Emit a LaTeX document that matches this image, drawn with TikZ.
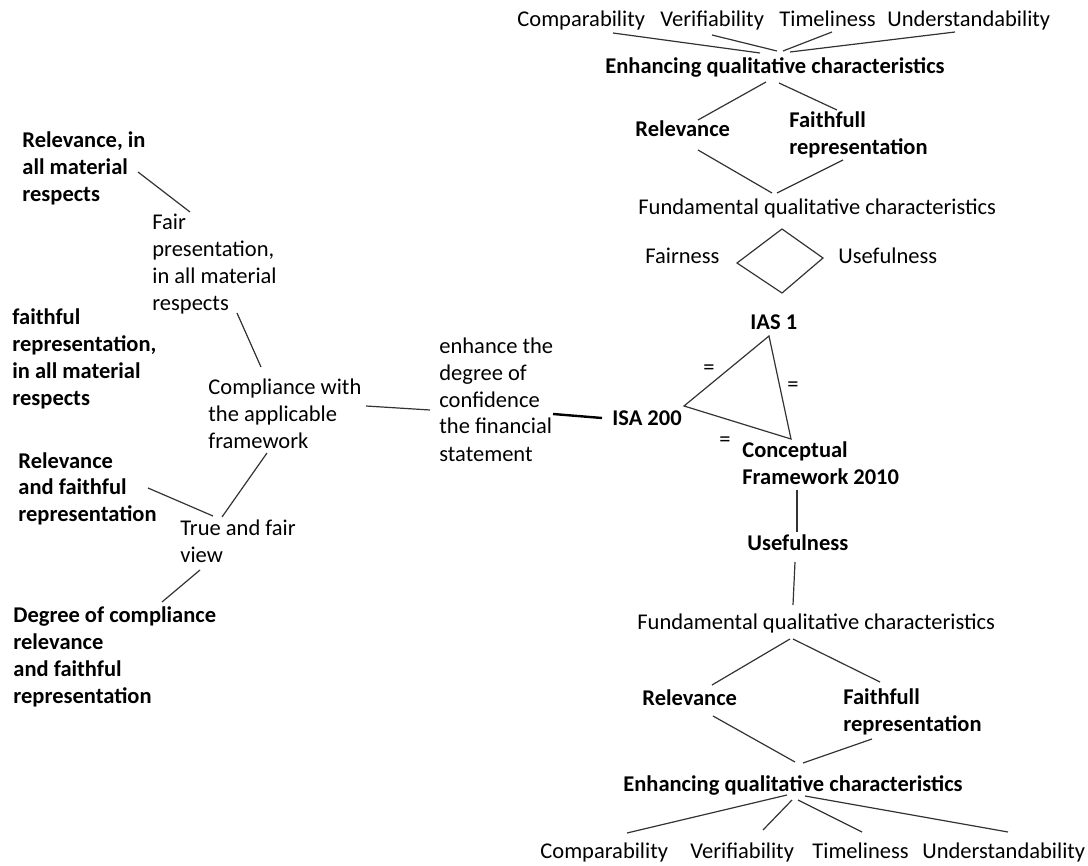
\documentclass[tikz,border=0pt]{standalone}
\usepackage{fontspec}
\setmainfont{Carlito}
\begin{document}
\begin{tikzpicture}[x=0.5pt,y=-0.5pt,
  % multi-line nodes: the base anchor sits on the baseline of the last line
  txt/.style={inner sep=0pt, anchor=base west, align=left,
              font=\fontsize{11.25pt}{13.5pt}\selectfont},
  btxt/.style={txt, font=\fontsize{11.25pt}{13.5pt}\selectfont\bfseries},
  eqsign/.style={inner sep=0pt, font=\fontsize{11.25pt}{13.5pt}\selectfont},
  link/.style={line width=0.6pt, draw=black!80},
  boldlink/.style={line width=1.2pt, draw=black}]
\useasboundingbox (0,0) rectangle (1088,866);

% ---------- upper tree ----------
\node[txt]  (compA) at (517,27) {Comparability};
\node[txt]  (verA)  at (660,27) {Verifiability};
\node[txt]  (timA)  at (779,27) {Timeliness};
\node[txt]  (undA)  at (887,27) {Understandability};
\node[btxt] (enhA)  at (605,74) {Enhancing qualitative characteristics};
\node[btxt] (relA)  at (635,137) {Relevance};
\node[btxt] (faiA)  at (789,155) {Faithfull\\representation};
\node[txt]  (funA)  at (638,215) {Fundamental qualitative characteristics};
\node[txt]  (fair)  at (645,264) {Fairness};
\node[txt]  (useA)  at (838,264) {Usefulness};

% ---------- central triangle ----------
\node[btxt] (ias)   at (750,330) {IAS 1};
\node[btxt] (isa)   at (612,426) {ISA 200};
\node[btxt] (cf)    at (742,485) {Conceptual\\Framework 2010};
\node[eqsign] (eq1) at (709,370) {=};
\node[eqsign] (eq2) at (793,387) {=};
\node[eqsign] (eq3) at (725,442) {=};

% ---------- lower tree ----------
\node[btxt] (useB)  at (747,550) {Usefulness};
\node[txt]  (funB)  at (637,629) {Fundamental qualitative characteristics};
\node[btxt] (relB)  at (642,705) {Relevance};
\node[btxt] (faiB)  at (843,731) {Faithfull\\representation};
\node[btxt] (enhB)  at (623,791) {Enhancing qualitative characteristics};
\node[txt]  (compB) at (540,858) {Comparability};
\node[txt]  (verB)  at (690,858) {Verifiability};
\node[txt]  (timB)  at (812,858) {Timeliness};
\node[txt]  (undB)  at (922,858) {Understandability};

% ---------- left branch ----------
\node[btxt] (relmat)  at (22,202)  {Relevance, in\\all material\\respects};
\node[txt]  (fairpr)  at (152,311) {Fair\\presentation,\\in all material\\respects};
\node[btxt] (faimat)  at (12,406)  {faithful\\representation,\\in all material\\respects};
\node[txt]  (compl)   at (208,449) {Compliance with\\the applicable\\framework};
\node[btxt] (relfai)  at (18,522)  {Relevance\\and faithful\\representation};
\node[txt]  (tfv)     at (180,562) {True and fair\\view};
\node[btxt] (degree)  at (13,703)  {Degree of compliance\\relevance\\and faithful\\representation};
\node[txt]  (enhconf) at (439,461) {enhance the\\degree of\\confidence\\the financial\\statement};

% ---------- connector end points ----------
\coordinate (compA-e) at (613,33);  \coordinate (enhA-1) at (760,53);
\coordinate (verA-e)  at (712,35);  \coordinate (enhA-2) at (777,51);
\coordinate (timA-e)  at (832,32);  \coordinate (enhA-3) at (783,51);
\coordinate (undA-e)  at (955,32);  \coordinate (enhA-4) at (790,52);
\coordinate (enhA-5)  at (766,82);  \coordinate (relA-n) at (698,120);
\coordinate (enhA-6)  at (779,83);  \coordinate (faiA-n) at (837,110);
\coordinate (relA-s)  at (698,150); \coordinate (funA-1) at (772,193);
\coordinate (funA-2)  at (777,193); \coordinate (faiA-s) at (843,160);
\coordinate (dTop)    at (782,229); \coordinate (dLeft)  at (737,263);
\coordinate (dBot)    at (782,293); \coordinate (dRight) at (823,258);
\coordinate (tIas)    at (769,336); \coordinate (tIsa)   at (684,406);
\coordinate (tCf)     at (791,439);
\coordinate (conf-e)  at (553,414); \coordinate (isa-w)  at (602,418);
\coordinate (compl-e) at (366,406); \coordinate (conf-w) at (430,410);
\coordinate (cf-s)    at (797,490); \coordinate (useB-n) at (797,532);
\coordinate (useB-s)  at (795,562); \coordinate (funB-n) at (793,605);
\coordinate (funB-1)  at (790,639); \coordinate (relB-n) at (712,685);
\coordinate (funB-2)  at (793,639); \coordinate (faiB-n) at (880,682);
\coordinate (relB-s)  at (713,716); \coordinate (enhB-1) at (795,762);
\coordinate (enhB-2)  at (803,763); \coordinate (faiB-s) at (872,739);
\coordinate (enhB-3)  at (787,795); \coordinate (compB-n) at (627,833);
\coordinate (enhB-4)  at (792,800); \coordinate (verB-n) at (763,830);
\coordinate (enhB-5)  at (798,800); \coordinate (timB-n) at (862,832);
\coordinate (enhB-6)  at (805,796); \coordinate (undB-n) at (1008,832);
\coordinate (relmat-e) at (138,172); \coordinate (fairpr-n) at (190,212);
\coordinate (fairpr-s) at (237,313); \coordinate (compl-n)  at (261,367);
\coordinate (relfai-e) at (148,488); \coordinate (tfv-1)    at (213,516);
\coordinate (compl-s)  at (267,453); \coordinate (tfv-2)    at (222,517);
\coordinate (tfv-s)    at (200,570); \coordinate (degree-n) at (162,602);

% ---------- connectors ----------
\draw[link] (compA-e) -- (enhA-1);
\draw[link] (verA-e)  -- (enhA-2);
\draw[link] (timA-e)  -- (enhA-3);
\draw[link] (undA-e)  -- (enhA-4);
\draw[link] (enhA-5)  -- (relA-n);
\draw[link] (enhA-6)  -- (faiA-n);
\draw[link] (relA-s)  -- (funA-1);
\draw[link] (funA-2)  -- (faiA-s);
\draw[link] (dTop) -- (dLeft) -- (dBot) -- (dRight) -- cycle;
\draw[link] (tIas) -- (tIsa) -- (tCf) -- cycle;
\draw[boldlink] (conf-e) -- (isa-w);
\draw[link] (compl-e) -- (conf-w);
\draw[link] (cf-s)    -- (useB-n);
\draw[link] (useB-s)  -- (funB-n);
\draw[link] (funB-1)  -- (relB-n);
\draw[link] (funB-2)  -- (faiB-n);
\draw[link] (relB-s)  -- (enhB-1);
\draw[link] (enhB-2)  -- (faiB-s);
\draw[link] (enhB-3)  -- (compB-n);
\draw[link] (enhB-4)  -- (verB-n);
\draw[link] (enhB-5)  -- (timB-n);
\draw[link] (enhB-6)  -- (undB-n);
\draw[link] (relmat-e) -- (fairpr-n);
\draw[link] (fairpr-s) -- (compl-n);
\draw[link] (relfai-e) -- (tfv-1);
\draw[link] (compl-s)  -- (tfv-2);
\draw[link] (tfv-s)    -- (degree-n);
\end{tikzpicture}
\end{document}
